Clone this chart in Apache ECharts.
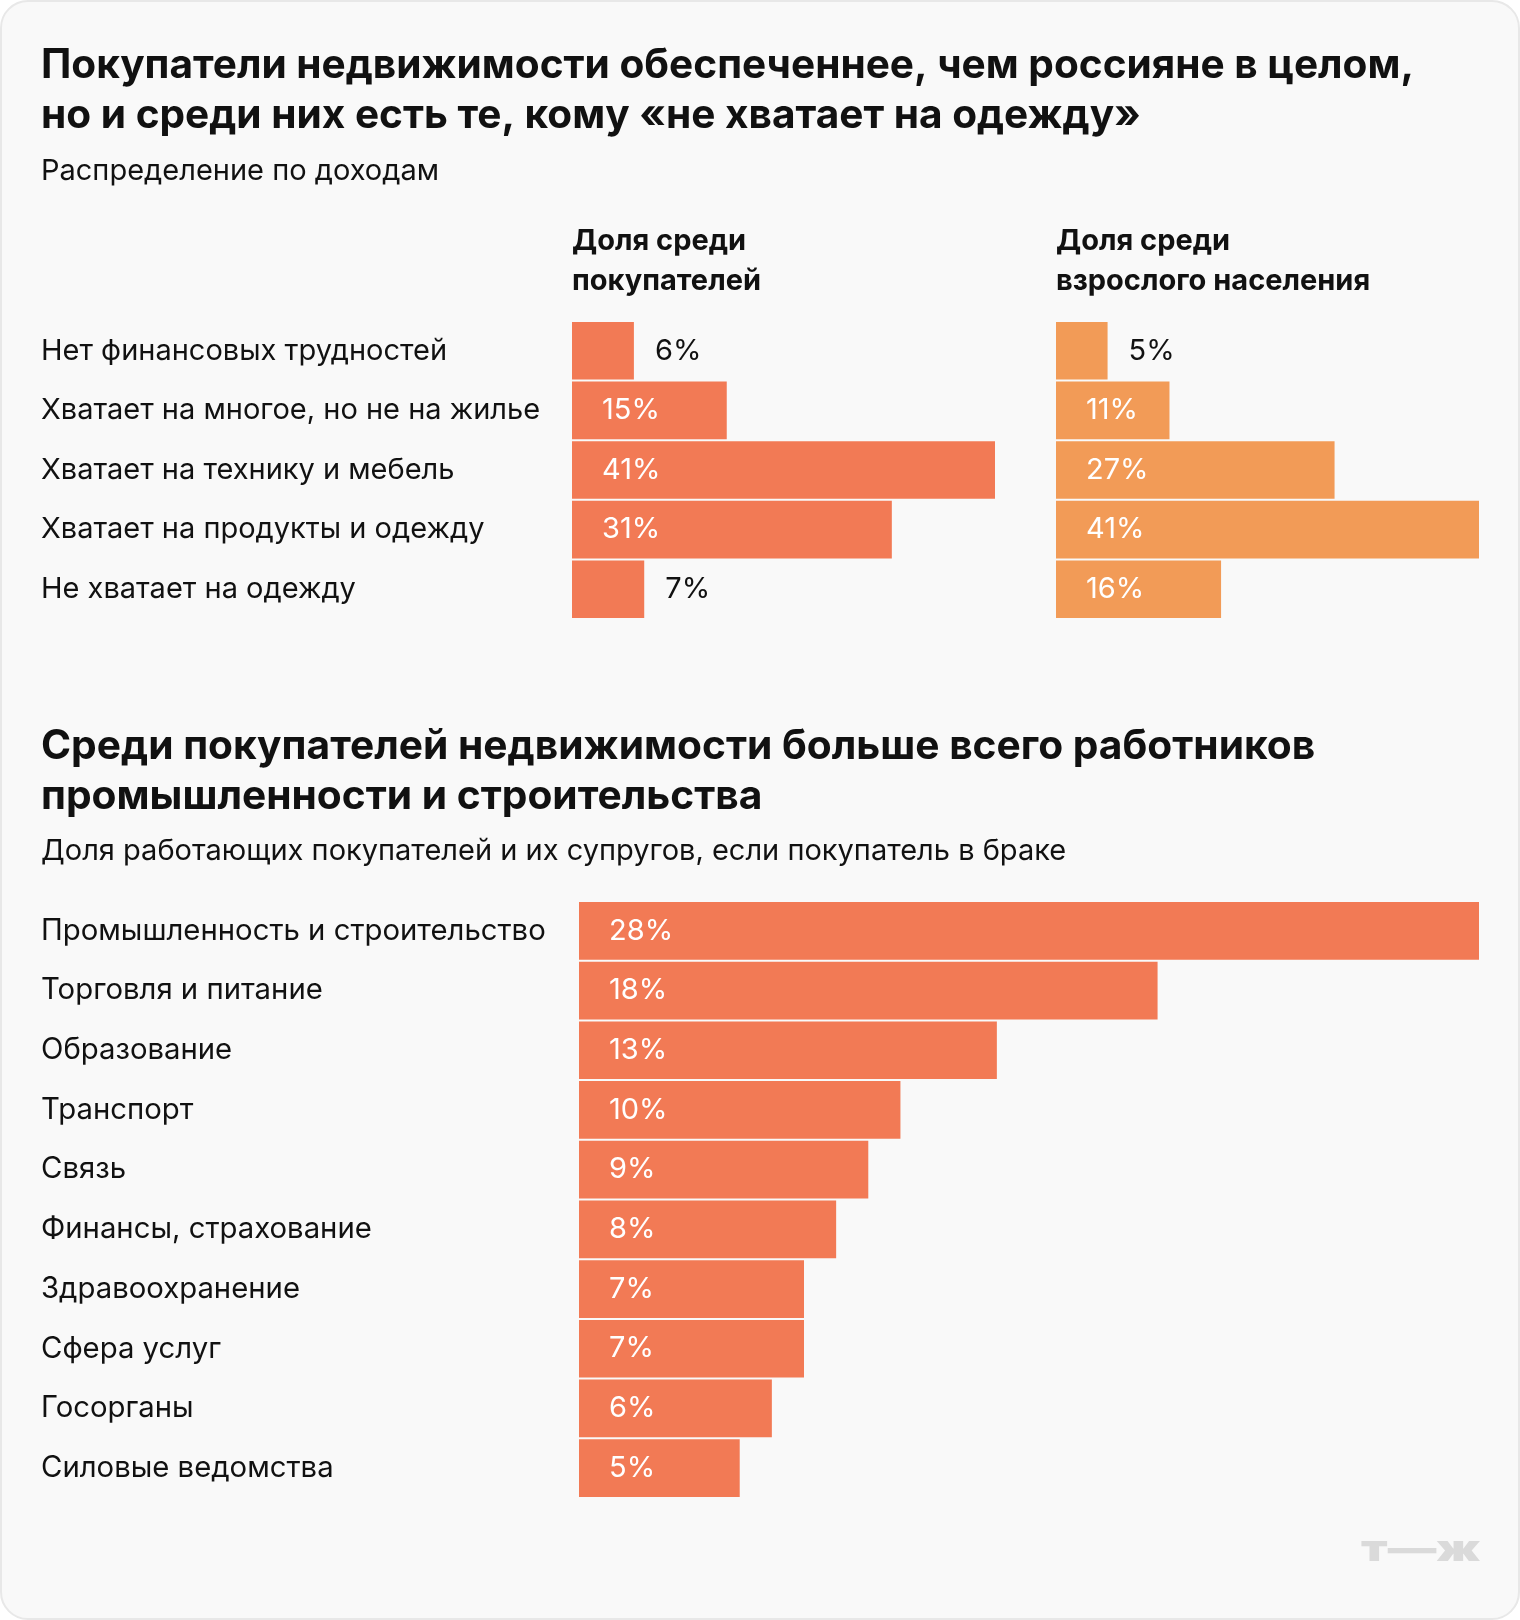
<!DOCTYPE html>
<html><head><meta charset="utf-8">
<script src="https://cdn.jsdelivr.net/npm/echarts@6/dist/echarts.min.js"></script>
<style>
html,body{margin:0;padding:0;background:#fff;}
#card{position:absolute;left:0;top:0;width:1516px;height:1616px;background:#f9f9f9;border:2px solid #e8e8e8;border-radius:28px;}
#c{position:absolute;left:0;top:0;width:1520px;height:1620px;}
</style></head>
<body>
<div id="card"></div>
<div id="c"></div>
<script>
const title1 = 'Покупатели недвижимости обеспеченнее, чем россияне в целом,\nно и среди них есть те, кому «не хватает на одежду»';
const subtitle1 = 'Распределение по доходам';
const header1 = 'Доля среди\nпокупателей';
const header2 = 'Доля среди\nвзрослого населения';
const incomeCategories = ['Нет финансовых трудностей','Хватает на многое, но не на жилье','Хватает на технику и мебель','Хватает на продукты и одежду','Не хватает на одежду'];
const buyersShare = [6, 15, 41, 31, 7];
const adultsShare = [5, 11, 27, 41, 16];

const title2 = 'Среди покупателей недвижимости больше всего работников\nпромышленности и строительства';
const subtitle2 = 'Доля работающих покупателей и их супругов, если покупатель в браке';
const industryCategories = ['Промышленность и строительство','Торговля и питание','Образование','Транспорт','Связь','Финансы, страхование','Здравоохранение','Сфера услуг','Госорганы','Силовые ведомства'];
const industryShare = [28, 18, 13, 10, 9, 8, 7, 7, 6, 5];

const FONT = 'Inter';
const RED = '#f27a55';
const ORANGE = '#f29b57';

const topMax = Math.max(...buyersShare, ...adultsShare);
const botMax = Math.max(...industryShare);

function mkData(vals, max, width) {
  return vals.map(v => {
    const px = v / max * width;
    const outside = px < 80;
    return {
      value: v,
      label: outside
        ? {position: 'right', distance: 21, color: '#111'}
        : {position: 'insideLeft', distance: 30, color: '#fff'}
    };
  });
}

const grids = [
  {left: 572, top: 321, width: 423, height: 298},
  {left: 1056, top: 321, width: 423, height: 298},
  {left: 579, top: 901, width: 900, height: 597}
];

const labelCommon = {show: true, formatter: '{c}%', fontFamily: FONT, fontSize: 29, fontWeight: 400};

const chart = echarts.init(document.getElementById('c'), null, {renderer: 'canvas'});
chart.setOption({
  backgroundColor: 'transparent',
  animation: false,
  grid: grids,
  xAxis: [
    {gridIndex: 0, type: 'value', min: 0, max: topMax, show: false},
    {gridIndex: 1, type: 'value', min: 0, max: topMax, show: false},
    {gridIndex: 2, type: 'value', min: 0, max: botMax, show: false}
  ],
  yAxis: [
    {gridIndex: 0, type: 'category', inverse: true, data: incomeCategories,
     axisLine: {show: false}, axisTick: {show: false},
     axisLabel: {align: 'left', margin: 572 - 41, fontFamily: FONT, fontSize: 29, color: '#111', padding: [4, 0, 0, 0]}},
    {gridIndex: 1, type: 'category', inverse: true, data: incomeCategories, show: false},
    {gridIndex: 2, type: 'category', inverse: true, data: industryCategories,
     axisLine: {show: false}, axisTick: {show: false},
     axisLabel: {align: 'left', margin: 579 - 41, fontFamily: FONT, fontSize: 29.3, color: '#111', padding: [4, 0, 0, 0]}}
  ],
  series: [
    {type: 'bar', xAxisIndex: 0, yAxisIndex: 0, data: mkData(buyersShare, topMax, 423),
     barCategoryGap: '3.4%', itemStyle: {color: RED}, label: labelCommon},
    {type: 'bar', xAxisIndex: 1, yAxisIndex: 1, data: mkData(adultsShare, topMax, 423),
     barCategoryGap: '3.4%', itemStyle: {color: ORANGE}, label: labelCommon},
    {type: 'bar', xAxisIndex: 2, yAxisIndex: 2, data: mkData(industryShare, botMax, 900),
     barCategoryGap: '3.4%', itemStyle: {color: RED}, label: labelCommon}
  ],
  graphic: [
    {type: 'text', left: 41, top: 41, style: {text: title1, fontFamily: FONT, fontSize: 40.6, fontWeight: 700, lineHeight: 50, fill: '#111'}},
    {type: 'text', left: 41, top: 154, style: {text: subtitle1, fontFamily: FONT, fontSize: 29, lineHeight: 34, fill: '#111'}},
    {type: 'text', left: 572, top: 221, style: {text: header1, fontFamily: FONT, fontSize: 29, fontWeight: 700, lineHeight: 40, fill: '#111'}},
    {type: 'text', left: 1056, top: 221, style: {text: header2, fontFamily: FONT, fontSize: 29, fontWeight: 700, lineHeight: 40, fill: '#111'}},
    {type: 'text', left: 41, top: 722, style: {text: title2, fontFamily: FONT, fontSize: 40.7, fontWeight: 700, lineHeight: 50, fill: '#111'}},
    {type: 'text', left: 41, top: 834, style: {text: subtitle2, fontFamily: FONT, fontSize: 29, lineHeight: 34, fill: '#111'}},
    {type: 'text', x: 1361, y: 1550, scaleX: 1.35, style: {text: 'т—ж', fontFamily: 'Inter', fontSize: 36, fontWeight: 900, fill: '#dadada', align: 'left', verticalAlign: 'middle'}}
  ]
});
</script>
</body></html>
